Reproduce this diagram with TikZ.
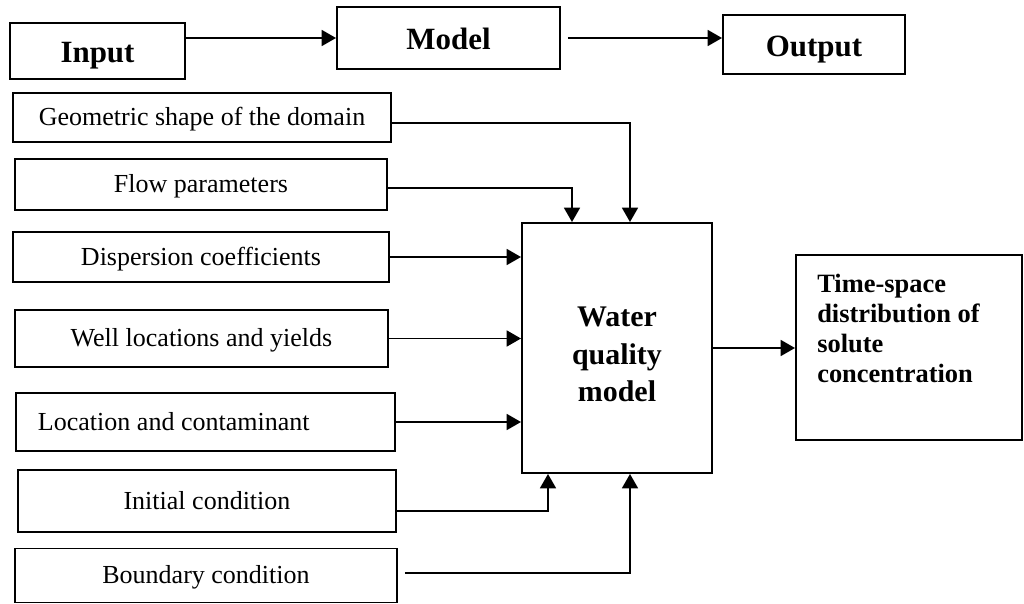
\documentclass[tikz,border=0pt]{standalone}
\usepackage{fontspec}
\setmainfont{Liberation Serif}
\usetikzlibrary{arrows.meta,positioning}
\pgfdeclarelayer{edgelayer}
\pgfdeclarelayer{nodelayer}
\pgfsetlayers{edgelayer,nodelayer,main}
\tikzset{font=\fontsize{18.5}{22}\selectfont}
\tikzstyle{none}=[inner sep=0pt]
\tikzstyle{box}=[draw,line width=1.4pt,inner sep=0pt]
\tikzstyle{item}=[box,text height=13pt,text depth=1pt]
\tikzstyle{head}=[box,font=\bfseries\fontsize{22}{26}\selectfont,text height=17pt,text depth=0pt]
\tikzstyle{core}=[box,align=center,font=\bfseries\fontsize{21.3}{27}\selectfont]
\tikzstyle{link}=[line width=1.3pt,-{Triangle[length=0.36cm,width=0.4cm]}]

\begin{document}
\begin{tikzpicture}
	\useasboundingbox (0,0) rectangle (25.6,-15.1);
	\begin{pgfonlayer}{nodelayer}
		\node [style=head, minimum width=4.375cm, minimum height=1.4cm] (0) at (2.4375, -1.275) {Input};
		\node [style=head, minimum width=5.575cm, minimum height=1.55cm] (1) at (11.2125, -0.95) {Model};
		\node [style=head, minimum width=4.55cm, minimum height=1.475cm] (2) at (20.35, -1.1125) {Output};
		\node [style=item, minimum width=9.45cm, minimum height=1.225cm] (3) at (5.05, -2.9375) {Geometric shape of the domain};
		\node [style=item, minimum width=9.3cm, minimum height=1.275cm] (4) at (5.025, -4.6125) {Flow parameters};
		\node [style=item, minimum width=9.4cm, minimum height=1.25cm] (5) at (5.025, -6.425) {Dispersion coefficients};
		\node [style=item, minimum width=9.325cm, minimum height=1.425cm] (6) at (5.0375, -8.4625) {Well locations and yields};
		\node [style=item, text width=8.375cm, inner xsep=0.55cm, align=flush left, minimum height=1.45cm] (7) at (5.1375, -10.55) {Location and contaminant};
		\node [style=item, minimum width=9.45cm, minimum height=1.55cm] (8) at (5.175, -12.525) {Initial condition};
		\node [style=item, minimum width=9.55cm, minimum height=1.35cm] (9) at (5.15, -14.3875) {Boundary condition};
		\node [style=core, minimum width=4.75cm, minimum height=6.25cm] (10) at (15.425, -8.7) {\\[-4pt]Water\\quality\\model};
		\node [style=box, minimum width=5.65cm, minimum height=4.625cm] (11) at (22.725, -8.6875) {};
		\node [style=none, anchor=north west, align=left, font=\bfseries\fontsize{18.8}{21.3}\selectfont] (12) at (20.425, -6.85) {Time-space\\distribution of\\solute\\concentration};
		\node [style=none] (13) at (15.75, -3.075) {};
		\node [style=none] (14) at (14.3, -4.7) {};
		\node [style=none] (15) at (13.7, -12.775) {};
		\node [style=none] (16) at (15.75, -14.325) {};
	\end{pgfonlayer}
	\begin{pgfonlayer}{edgelayer}
		\draw [style=link] (1.west -| 0.east) to (1.west);
		\draw [style=link] ([xshift=0.175cm]1.east) to (1.east -| 2.west);
		\draw [style=link] (13 -| 3.east) -- (13.center) -- (13 |- 10.north);
		\draw [style=link] (14 -| 4.east) -- (14.center) -- (14 |- 10.north);
		\draw [style=link] (5.east) to (5.east -| 10.west);
		\draw [style=link] (6.east) to (6.east -| 10.west);
		\draw [style=link] (7.east) to (7.east -| 10.west);
		\draw [style=link] (15 -| 8.east) -- (15.center) -- (15 |- 10.south);
		\draw [style=link] ([xshift=0.175cm]16 -| 9.east) -- (16.center) -- (16 |- 10.south);
		\draw [style=link] (10.east) to (10.east -| 11.west);
	\end{pgfonlayer}
\end{tikzpicture}
\end{document}
